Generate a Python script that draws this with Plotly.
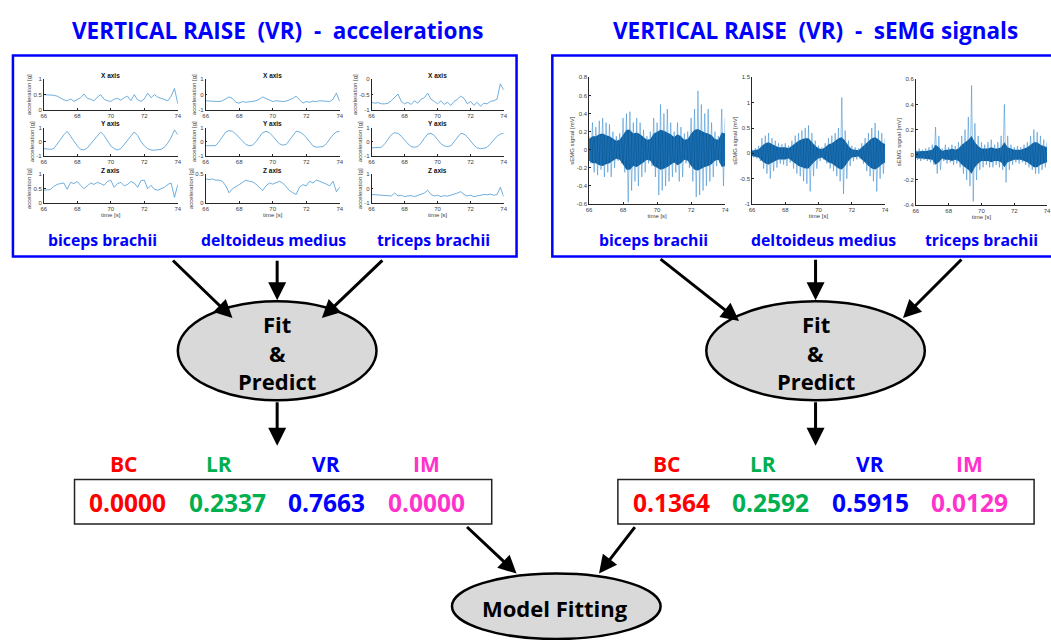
import numpy as np
import plotly.graph_objects as go

W, H = 1051, 640

# ---------------- data ----------------
time_s = np.round(66 + 0.2 * np.arange(41), 1)

# accelerations [g] — biceps brachii
bb_x = [0.50, 0.50, 0.49, 0.48, 0.45, 0.38, 0.33, 0.30, 0.36, 0.28, 0.35, 0.40, 0.52, 0.38, 0.35, 0.30, 0.42,
        0.50, 0.35, 0.30, 0.28, 0.35, 0.38, 0.32, 0.40, 0.45, 0.30, 0.50, 0.33, 0.28, 0.36, 0.55, 0.40, 0.50,
        0.42, 0.38, 0.35, 0.30, 0.45, 0.70, 0.20]
bb_y = [-0.50, -0.52, -0.55, -0.50, -0.20, 0.15, 0.50, 0.75, 0.40, 0.05, -0.30, -0.55, -0.60, -0.45, -0.15,
        0.15, 0.45, 0.70, 0.45, 0.05, -0.30, -0.50, -0.60, -0.50, -0.20, 0.10, 0.45, 0.70, 0.45, 0.00, -0.30,
        -0.50, -0.60, -0.62, -0.58, -0.55, -0.40, -0.10, 0.30, 0.85, 0.50]
bb_z = [0.45, 0.45, 0.47, 0.58, 0.65, 0.68, 0.70, 0.48, 0.72, 0.68, 0.75, 0.62, 0.50, 0.60, 0.70, 0.65, 0.72,
        0.68, 0.62, 0.75, 0.80, 0.55, 0.68, 0.72, 0.60, 0.65, 0.75, 0.70, 0.55, 0.78, 0.80, 0.50, 0.62, 0.48,
        0.45, 0.50, 0.55, 0.65, 0.70, 0.20, 0.65]
# deltoideus medius
dm_x = [-0.40, -0.42, -0.43, -0.45, -0.45, -0.40, -0.30, -0.15, -0.25, -0.50, -0.55, -0.45, -0.50, -0.48,
        -0.45, -0.40, -0.30, -0.15, -0.25, -0.35, -0.45, -0.40, -0.42, -0.45, -0.42, -0.35, -0.25, -0.10,
        -0.30, -0.55, -0.45, -0.50, -0.42, -0.45, -0.40, -0.42, -0.40, -0.45, -0.30, 0.10, -0.45]
dm_y = [-0.30, -0.30, -0.30, -0.28, 0.00, 0.40, 0.70, 0.80, 0.75, 0.55, 0.30, 0.00, -0.20, -0.30, -0.25,
        0.00, 0.35, 0.65, 0.75, 0.65, 0.40, 0.10, -0.15, -0.25, -0.20, 0.10, 0.45, 0.75, 0.70, 0.55, 0.30,
        0.00, -0.30, -0.40, -0.40, -0.35, -0.15, 0.20, 0.50, 0.70, 0.75]
dm_z = [0.42, 0.41, 0.42, 0.40, 0.40, 0.38, 0.30, 0.18, 0.25, 0.28, 0.32, 0.36, 0.40, 0.38, 0.37, 0.33, 0.28,
        0.22, 0.30, 0.35, 0.33, 0.36, 0.38, 0.35, 0.28, 0.22, 0.18, 0.15, 0.28, 0.32, 0.30, 0.38, 0.35, 0.40,
        0.38, 0.36, 0.33, 0.30, 0.38, 0.20, 0.28]
# triceps brachii
tb_x = [-0.75, -0.78, -0.76, -0.80, -0.80, -0.78, -0.70, -0.60, -0.48, -0.72, -0.80, -0.75, -0.82, -0.70,
        -0.78, -0.65, -0.60, -0.45, -0.65, -0.72, -0.80, -0.70, -0.82, -0.75, -0.85, -0.72, -0.65, -0.55,
        -0.62, -0.80, -0.72, -0.85, -0.75, -0.88, -0.78, -0.80, -0.72, -0.70, -0.65, -0.15, -0.35]
tb_y = [-0.45, -0.45, -0.42, -0.40, -0.15, 0.20, 0.50, 0.65, 0.60, 0.40, 0.10, -0.15, -0.35, -0.40, -0.35,
        -0.10, 0.25, 0.55, 0.60, 0.45, 0.15, -0.15, -0.30, -0.35, -0.30, 0.00, 0.35, 0.60, 0.55, 0.35, 0.05,
        -0.25, -0.45, -0.50, -0.48, -0.40, -0.15, 0.15, 0.40, 0.55, 0.60]
tb_z = [-0.40, -0.42, -0.45, -0.48, -0.50, -0.52, -0.50, -0.30, -0.50, -0.45, -0.55, -0.50, -0.48, -0.55,
        -0.45, -0.40, -0.30, -0.10, -0.40, -0.50, -0.45, -0.55, -0.48, -0.52, -0.45, -0.40, -0.30, -0.20,
        -0.40, -0.50, -0.45, -0.55, -0.50, -0.45, -0.40, -0.42, -0.38, -0.45, -0.40, 0.10, -0.55]

# sEMG [mV]: upper spikes, lower spikes and dense-band half width
emg_bb_hi = [0.15, 0.30, 0.25, 0.32, 0.35, 0.30, 0.28, 0.20, 0.15, 0.18, 0.35, 0.40, 0.42, 0.30, 0.35, 0.30,
             0.22, 0.15, 0.20, 0.35, 0.30, 0.50, 0.40, 0.45, 0.30, 0.20, 0.30, 0.25, 0.18, 0.20, 0.35, 0.45,
             0.65, 0.50, 0.40, 0.45, 0.30, 0.20, 0.15, 0.45, 0.35]
emg_bb_lo = [-0.15, -0.25, -0.28, -0.22, -0.30, -0.25, -0.30, -0.20, -0.12, -0.15, -0.25, -0.58, -0.45, -0.35,
             -0.40, -0.30, -0.25, -0.15, -0.18, -0.30, -0.50, -0.45, -0.40, -0.35, -0.30, -0.25, -0.35, -0.30,
             -0.15, -0.20, -0.35, -0.52, -0.50, -0.45, -0.40, -0.35, -0.30, -0.18, -0.15, -0.40, -0.30]
emg_bb_core = [0.12, 0.15, 0.15, 0.17, 0.18, 0.16, 0.15, 0.12, 0.10, 0.11, 0.17, 0.22, 0.22, 0.18, 0.19, 0.17,
               0.14, 0.11, 0.12, 0.18, 0.20, 0.22, 0.21, 0.19, 0.17, 0.14, 0.17, 0.15, 0.11, 0.12, 0.18, 0.22,
               0.23, 0.21, 0.19, 0.18, 0.16, 0.12, 0.11, 0.19, 0.18]
emg_dm_hi = [0.08, 0.10, 0.15, 0.30, 0.35, 0.40, 0.30, 0.25, 0.20, 0.18, 0.20, 0.15, 0.25, 0.35, 0.40, 0.45,
             0.50, 0.55, 0.40, 0.25, 0.15, 0.12, 0.20, 0.30, 0.35, 0.40, 0.50, 1.10, 0.45, 0.25, 0.15, 0.12,
             0.10, 0.20, 0.30, 0.40, 0.50, 0.60, 0.45, 0.40, 0.30]
emg_dm_lo = [-0.08, -0.10, -0.15, -0.30, -0.40, -0.50, -0.35, -0.28, -0.20, -0.22, -0.25, -0.18, -0.30, -0.40,
             -0.45, -0.55, -0.60, -0.75, -0.45, -0.30, -0.15, -0.12, -0.20, -0.30, -0.35, -0.45, -0.55, -0.80,
             -0.50, -0.25, -0.15, -0.12, -0.10, -0.20, -0.35, -0.45, -0.55, -0.75, -0.50, -0.40, -0.30]
emg_dm_core = [0.05, 0.06, 0.08, 0.15, 0.20, 0.22, 0.18, 0.15, 0.12, 0.12, 0.12, 0.10, 0.15, 0.20, 0.25, 0.28,
               0.30, 0.30, 0.22, 0.15, 0.10, 0.08, 0.12, 0.18, 0.20, 0.25, 0.30, 0.32, 0.25, 0.15, 0.08, 0.07,
               0.06, 0.12, 0.18, 0.25, 0.30, 0.32, 0.28, 0.22, 0.18]
emg_tb_hi = [0.04, 0.05, 0.04, 0.05, 0.06, 0.08, 0.22, 0.15, 0.05, 0.08, 0.06, 0.08, 0.07, 0.10, 0.15, 0.20,
             0.30, 0.55, 0.25, 0.15, 0.10, 0.08, 0.10, 0.12, 0.08, 0.10, 0.15, 0.40, 0.15, 0.08, 0.06, 0.07,
             0.06, 0.08, 0.10, 0.15, 0.20, 0.18, 0.15, 0.12, 0.10]
emg_tb_lo = [-0.04, -0.05, -0.04, -0.05, -0.06, -0.08, -0.15, -0.12, -0.05, -0.07, -0.06, -0.08, -0.07, -0.10,
             -0.15, -0.20, -0.25, -0.37, -0.20, -0.12, -0.10, -0.08, -0.10, -0.10, -0.08, -0.10, -0.12, -0.22,
             -0.12, -0.08, -0.06, -0.07, -0.06, -0.08, -0.10, -0.12, -0.15, -0.15, -0.12, -0.10, -0.08]
emg_tb_core = [0.025, 0.03, 0.03, 0.03, 0.035, 0.04, 0.08, 0.06, 0.03, 0.04, 0.04, 0.05, 0.04, 0.05, 0.08,
               0.10, 0.12, 0.15, 0.10, 0.07, 0.05, 0.05, 0.05, 0.06, 0.05, 0.05, 0.06, 0.10, 0.06, 0.05, 0.04,
               0.04, 0.04, 0.05, 0.06, 0.08, 0.10, 0.10, 0.08, 0.07, 0.06]

muscles = ["biceps brachii", "deltoideus medius", "triceps brachii"]
classes = ["BC", "LR", "VR", "IM"]
class_colors = ["#FF0000", "#00B050", "#0000FF", "#FF33CC"]
probs_acc = ["0.0000", "0.2337", "0.7663", "0.0000"]
probs_emg = ["0.1364", "0.2592", "0.5915", "0.0129"]

# ---------------- helpers ----------------
def px(x):
    return x / W


def py(y):
    return 1 - y / H


AX = "#262626"
TICKFONT = dict(size=6, color="#404040", family="Liberation Sans")
DIAG = "Open Sans"

fig = go.Figure()
layout = {}
annotations = []
shapes = []
n_axis = [0]


def label(text, x, y, size, color, family=DIAG, **kw):
    d = dict(text=text, x=px(x), y=py(y), xref="paper", yref="paper", showarrow=False,
             xanchor="center", yanchor="middle", font=dict(size=size, color=color, family=family))
    d.update(kw)
    annotations.append(d)


def add_panel(xdom, ydom, yrange, yticks, ytitle, show_xtitle):
    n_axis[0] += 1
    n = n_axis[0]
    xa = "xaxis" if n == 1 else f"xaxis{n}"
    ya = "yaxis" if n == 1 else f"yaxis{n}"
    xr = "x" if n == 1 else f"x{n}"
    yr = "y" if n == 1 else f"y{n}"
    common = dict(showline=True, linecolor=AX, linewidth=0.6, ticks="inside", ticklen=2,
                  tickcolor=AX, tickwidth=0.6, tickfont=TICKFONT, showgrid=False, zeroline=False)
    layout[xa] = dict(domain=[px(xdom[0]), min(1.0, px(xdom[1]))], range=[66, 74],
                      tickvals=[66, 68, 70, 72, 74], anchor=yr, **common)
    if show_xtitle:
        layout[xa]["title"] = dict(text="time [s]", font=dict(size=6, color="#404040",
                                                            family="Liberation Sans"), standoff=1)
    layout[ya] = dict(domain=[py(ydom[1]), py(ydom[0])], range=list(yrange), tickvals=yticks,
                      ticktext=[f"{v:g}" for v in yticks], anchor=xr,
                      title=dict(text=ytitle, font=dict(size=6, color="#404040",
                                                        family="Liberation Sans"), standoff=1),
                      **common)
    return xr, yr


# ---------------- accelerations ----------------
acc_cols = [(41, 176), (204, 339), (371, 504)]
acc_rows = [(77, 108), (126, 154), (173, 202)]
acc_series = [[bb_x, bb_y, bb_z], [dm_x, dm_y, dm_z], [tb_x, tb_y, tb_z]]
acc_ranges = [[(0, 1), (-1, 1), (0, 1)], [(-1, 1), (-1, 1), (0, 0.5)], [(-1, 0), (-1, 1), (-1, 1)]]
acc_ticks = [[[0, 0.5, 1], [-1, 0, 1], [0, 0.5, 1]], [[-1, 0, 1], [-1, 0, 1], [0, 0.5]],
             [[-1, -0.5, 0], [-1, 0, 1], [-1, 0, 1]]]
axis_names = ["X axis", "Y axis", "Z axis"]

for c, xdom in enumerate(acc_cols):
    for r, ydom in enumerate(acc_rows):
        xr, yr = add_panel(xdom, ydom, acc_ranges[c][r], acc_ticks[c][r], "acceleration [g]", r == 2)
        fig.add_trace(go.Scatter(x=time_s, y=acc_series[c][r], mode="lines", xaxis=xr, yaxis=yr,
                                 line=dict(color="#4A9AD6", width=0.8), showlegend=False,
                                 hoverinfo="skip"))
        label(f"<b>{axis_names[r]}</b>", (xdom[0] + xdom[1]) / 2, ydom[0] - 4, 6.5, "#111111",
              family="Liberation Sans")

# ---------------- sEMG ----------------
emg_cols = [(590, 727), (754, 888), (919, 1051)]
emg_rows = [(75, 203), (75, 203), (77, 204)]
emg_ranges = [(-0.6, 0.8), (-1, 1.5), (-0.4, 0.6)]
emg_ticks = [[-0.6, -0.4, -0.2, 0, 0.2, 0.4, 0.6, 0.8], [-1, -0.5, 0, 0.5, 1, 1.5],
             [-0.4, -0.2, 0, 0.2, 0.4, 0.6]]
emg_data = [(emg_bb_hi, emg_bb_lo, emg_bb_core), (emg_dm_hi, emg_dm_lo, emg_dm_core),
            (emg_tb_hi, emg_tb_lo, emg_tb_core)]

for c in range(3):
    xr, yr = add_panel(emg_cols[c], emg_rows[c], emg_ranges[c], emg_ticks[c], "sEMG signal [mV]", True)
    hi, lo, core = emg_data[c]
    core = np.array(core)
    # dense band of the signal
    fig.add_trace(go.Scatter(x=np.concatenate([time_s, time_s[::-1]]),
                             y=np.concatenate([core, -core[::-1]]), fill="toself",
                             fillcolor="#0F5E9C", line=dict(width=0), mode="lines",
                             xaxis=xr, yaxis=yr, showlegend=False, hoverinfo="skip"))
    # spikes alternating between upper and lower peaks
    zx, zy = [], []
    for t, a, b in zip(time_s, hi, lo):
        zx += [t, t + 0.1]
        zy += [a, b]
    fig.add_trace(go.Scatter(x=zx[:-1], y=zy[:-1], mode="lines", xaxis=xr, yaxis=yr,
                             line=dict(color="rgba(40,130,205,0.7)", width=0.7),
                             showlegend=False, hoverinfo="skip"))

# ---------------- diagram ----------------
BLUE = "#0000FF"
shapes.append(dict(type="rect", xref="paper", yref="paper", x0=px(10), x1=px(517), y0=py(256), y1=py(53),
                   line=dict(color=BLUE, width=2.5)))
shapes.append(dict(type="rect", xref="paper", yref="paper", x0=px(553), x1=px(1060), y0=py(256), y1=py(53),
                   line=dict(color=BLUE, width=2.5)))

titles = [("VERTICAL RAISE  (VR)  -  accelerations", 276), ("VERTICAL RAISE  (VR)  -  sEMG signals", 818)]
for text, cx in titles:
    label("<b>" + text.replace(" ", "\u00a0") + "</b>", cx, 28, 22.5, BLUE)

for cx_list in ([100, 272, 433], [655, 826, 985]):
    for m, cx in zip(muscles, cx_list):
        label(f"<b>{m}</b>", cx, 239, 15.8, BLUE)

# Fit & Predict ellipses
for cx, rx in ((276, 100), (818, 110)):
    shapes.append(dict(type="circle", xref="paper", yref="paper", x0=px(cx - rx), x1=px(cx + rx),
                       y0=py(401), y1=py(301), fillcolor="#D9D9D9", line=dict(color="black", width=2.5)))
    for line_text, yy in (("Fit", 324), ("&", 353), ("Predict", 382)):
        label(f"<b>{line_text}</b>", cx, yy, 22, "black")

# Model Fitting ellipse
shapes.append(dict(type="circle", xref="paper", yref="paper", x0=px(452), x1=px(662), y0=py(642),
                   y1=py(576), fillcolor="#D9D9D9", line=dict(color="black", width=2.5)))
label("<b>Model Fitting</b>", 556, 611, 22, "black")

# probability boxes
boxes = [((72, 492), [122, 217, 325, 426], [125, 226, 326, 426], probs_acc),
         ((619, 1038), [668, 765, 873, 973], [673, 773, 873, 973], probs_emg)]
for (bx0, bx1), lab_x, val_x, vals in boxes:
    shapes.append(dict(type="rect", xref="paper", yref="paper", x0=px(bx0), x1=px(bx1), y0=py(526),
                       y1=py(481), line=dict(color="#222222", width=1.5)))
    for k in range(4):
        label(f"<b>{classes[k]}</b>", lab_x[k], 465, 21, class_colors[k])
        label(f"<b>{vals[k]}</b>", val_x[k], 504, 24.5, class_colors[k])

# arrows: (tail_x, tail_y, head_x, head_y) in pixels
arrows = [(170, 259, 231, 318), (276, 259, 276, 300), (383, 259, 321, 318),
          (661, 258, 741, 321), (818, 258, 818, 300), (966, 258, 906, 318),
          (276, 402, 276, 447), (818, 402, 818, 447),
          (466, 528, 517, 576), (637, 528, 600, 576)]
for tx, ty, hx, hy in arrows:
    annotations.append(dict(text="", x=px(hx), y=py(hy), xref="paper", yref="paper", ax=tx - hx, ay=ty - hy,
                            axref="pixel", ayref="pixel", showarrow=True, arrowhead=2, arrowsize=1.2,
                            arrowwidth=3, arrowcolor="black"))

fig.update_layout(**layout)
fig.update_layout(width=W, height=H, margin=dict(l=0, r=0, t=0, b=0), paper_bgcolor="white",
                  plot_bgcolor="white", showlegend=False, annotations=annotations, shapes=shapes)
fig.write_html("out.html")
